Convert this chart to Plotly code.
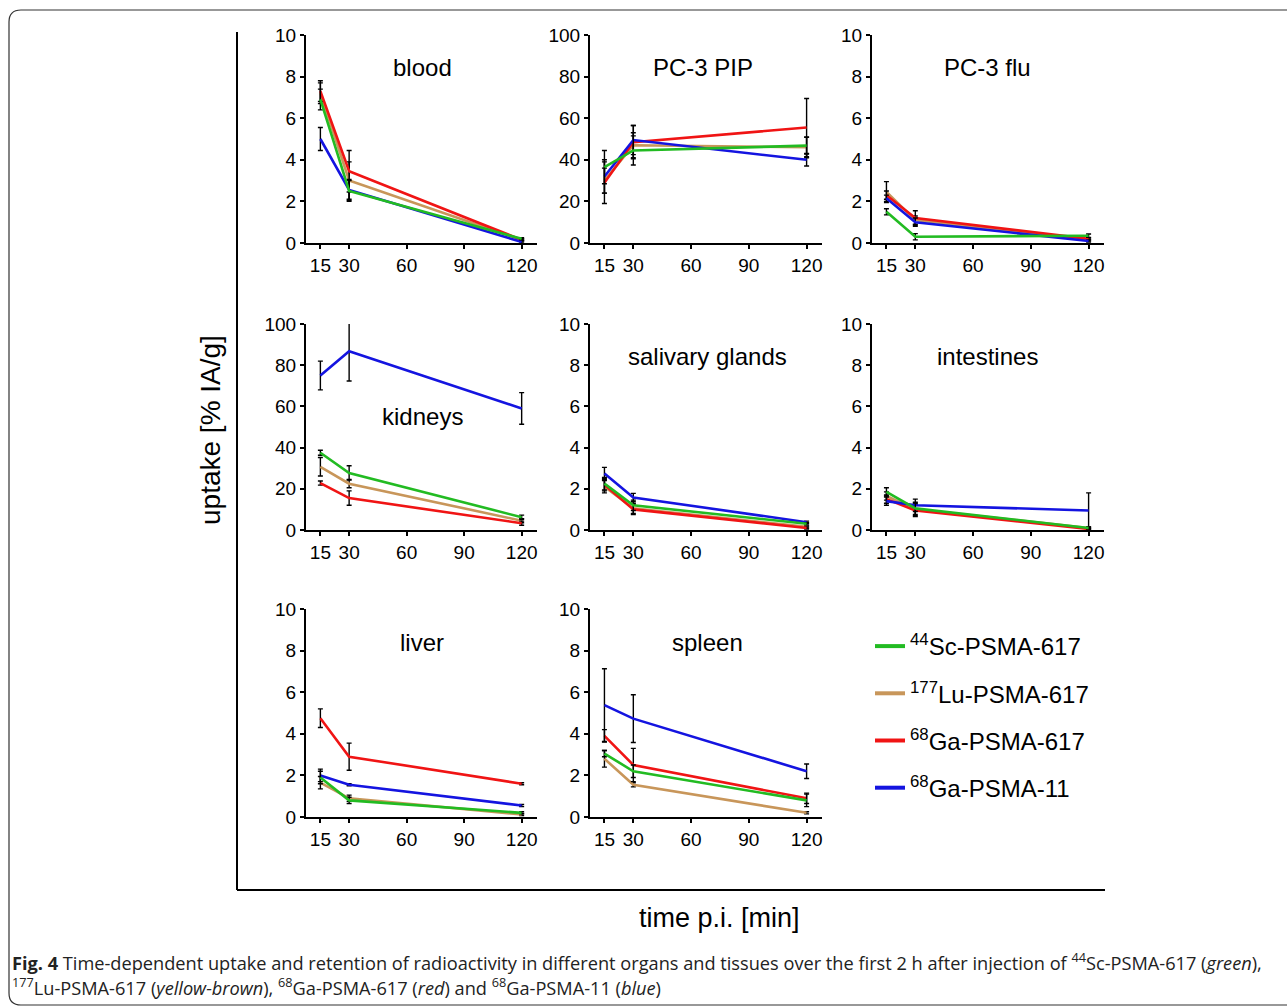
import plotly.graph_objects as go

W, H = 1287, 1008

# ---------------- data ----------------
times = [15, 30, 120]
x_ticks = [15, 30, 60, 90, 120]

compounds = ["<sup>44</sup>Sc-PSMA-617", "<sup>177</sup>Lu-PSMA-617",
             "<sup>68</sup>Ga-PSMA-617", "<sup>68</sup>Ga-PSMA-11"]
colors = ["#22bb22", "#c8965a", "#f01414", "#1414e0"]

organs = ["blood", "PC-3 PIP", "PC-3 flu", "kidneys", "salivary glands",
          "intestines", "liver", "spleen"]
y_max = [10, 100, 10, 100, 10, 10, 10, 10]

# 44Sc-PSMA-617 (green)
sc_mean = [[6.9, 2.5, 0.2], [36.5, 44.5, 46.8], [1.5, 0.3, 0.35], [37.5, 27.7, 6.2],
           [2.25, 1.2, 0.3], [1.85, 1.05, 0.1], [1.9, 0.8, 0.2], [3.05, 2.2, 0.8]]
sc_sd = [[0.5, 0.5, 0.05], [8, 7, 4], [0.15, 0.15, 0.08], [1.2, 3.5, 1.0],
         [0.3, 0.25, 0.05], [0.2, 0.3, 0.05], [0.3, 0.15, 0.05], [0.15, 0.3, 0.3]]

# 177Lu-PSMA-617 (yellow-brown)
lu_mean = [[7.2, 3.0, 0.15], [30, 47, 46], [2.45, 1.1, 0.15], [30.7, 22.5, 4.5],
           [2.1, 1.05, 0.15], [1.65, 1.0, 0.1], [1.65, 0.9, 0.12], [2.8, 1.55, 0.2]]
lu_sd = [[0.5, 0.9, 0.05], [6, 6, 5], [0.5, 0.2, 0.05], [4.5, 2.0, 1.0],
         [0.3, 0.25, 0.05], [0.2, 0.3, 0.05], [0.3, 0.15, 0.05], [0.4, 0.1, 0.05]]

# 68Ga-PSMA-617 (red)
ga617_mean = [[7.3, 3.45, 0.15], [29, 48.5, 55.5], [2.3, 1.2, 0.2], [22.8, 15.5, 3.3],
              [2.2, 1.0, 0.1], [1.5, 0.95, 0.05], [4.75, 2.9, 1.6], [3.9, 2.5, 0.9]]
ga617_sd = [[0.5, 1.0, 0.05], [10, 8, 14], [0.2, 0.35, 0.05], [1.0, 3.5, 1.0],
            [0.3, 0.25, 0.05], [0.2, 0.3, 0.05], [0.45, 0.65, 0.05], [0.3, 0.8, 0.25]]

# 68Ga-PSMA-11 (blue)
ga11_mean = [[5.0, 2.55, 0.05], [32, 49.5, 40], [2.15, 1.0, 0.1], [75, 86.8, 59],
             [2.74, 1.58, 0.38], [1.4, 1.2, 0.95], [2.0, 1.55, 0.55], [5.38, 4.73, 2.2]]
ga11_sd = [[0.55, 0.5, 0.05], [8, 7, 3], [0.15, 0.2, 0.05], [7, 14.5, 7.7],
           [0.3, 0.2, 0.05], [0.2, 0.3, 0.85], [0.3, 0.05, 0.05], [1.75, 1.15, 0.35]]

means = [sc_mean, lu_mean, ga617_mean, ga11_mean]
sds = [sc_sd, lu_sd, ga617_sd, ga11_sd]
draw_order = [1, 2, 3, 0]  # tan, red, blue, green on top

# ---------------- layout helpers ----------------
col_px = [(306, 537), (590, 822), (872, 1104)]
row_px = [(35, 243), (324, 530), (609, 817)]
title_px = [(422, 68), (703, 68), (988, 68), (422, 416), (707, 356),
            (988, 356), (422, 642), (707, 642)]

def px_x(p):
    return p / W

def px_y(p):
    return 1 - p / H

fig = go.Figure()
FONT = "Liberation Sans, Arial, sans-serif"

for i, organ in enumerate(organs):
    r, c = divmod(i, 3)
    n = i + 1
    xa = "x" if n == 1 else f"x{n}"
    ya = "y" if n == 1 else f"y{n}"
    for k in draw_order:
        fig.add_trace(go.Scatter(
            x=times, y=means[k][i], mode="lines",
            line=dict(color=colors[k], width=2.6),
            error_y=dict(type="data", array=sds[k][i], visible=True,
                         color="black", thickness=1.4, width=2.5),
            xaxis=xa, yaxis=ya, showlegend=False, hoverinfo="skip"))
    ax = dict(
        domain=[px_x(col_px[c][0]), px_x(col_px[c][1])],
        range=[7.5, 128], tickvals=x_ticks, ticktext=[str(t) for t in x_ticks],
        showline=True, linecolor="black", linewidth=2, mirror=False,
        ticks="outside", ticklen=4, tickwidth=2, tickcolor="black",
        showgrid=False, zeroline=False, automargin=False,
        tickfont=dict(family=FONT, size=19, color="black"),
        anchor=ya, fixedrange=True)
    ay = dict(
        domain=[px_y(row_px[r][1]), px_y(row_px[r][0])],
        range=[0, y_max[i]], dtick=y_max[i] / 5,
        showline=True, linecolor="black", linewidth=2,
        ticks="outside", ticklen=4, tickwidth=2, tickcolor="black",
        showgrid=False, zeroline=False, automargin=False,
        tickfont=dict(family=FONT, size=19, color="black"),
        anchor=xa, fixedrange=True)
    fig.layout["xaxis" if n == 1 else f"xaxis{n}"] = ax
    fig.layout["yaxis" if n == 1 else f"yaxis{n}"] = ay
    fig.add_annotation(text=organ, x=px_x(title_px[i][0]), y=px_y(title_px[i][1]),
                       xref="paper", yref="paper", showarrow=False,
                       xanchor="center", yanchor="middle",
                       font=dict(family=FONT, size=24, color="black"))

# legend entries
for k in range(4):
    fig.add_trace(go.Scatter(x=[None], y=[None], mode="lines",
                             line=dict(color=colors[k], width=4),
                             name=compounds[k], legendgroup=str(k),
                             showlegend=True, xaxis="x8", yaxis="y8"))

# outer frame axes
shapes = [
    dict(type="line", xref="paper", yref="paper", x0=px_x(237), x1=px_x(237),
         y0=px_y(32), y1=px_y(890), line=dict(color="black", width=2)),
    dict(type="line", xref="paper", yref="paper", x0=px_x(237), x1=px_x(1105),
         y0=px_y(890), y1=px_y(890), line=dict(color="black", width=2)),
]
# rounded figure border
rr = 12
path = (f"M {px_x(1287)},{px_y(10)} L {px_x(9 + rr)},{px_y(10)} "
        f"Q {px_x(9)},{px_y(10)} {px_x(9)},{px_y(10 + rr)} "
        f"L {px_x(9)},{px_y(1005 - rr)} Q {px_x(9)},{px_y(1005)} {px_x(9 + rr)},{px_y(1005)} "
        f"L {px_x(1287)},{px_y(1005)}")
shapes.append(dict(type="path", xref="paper", yref="paper", path=path,
                   line=dict(color="#333333", width=1.2)))

fig.add_annotation(text="uptake [% IA/g]", x=px_x(210), y=px_y(430), xref="paper",
                   yref="paper", showarrow=False, textangle=-90,
                   xanchor="center", yanchor="middle",
                   font=dict(family=FONT, size=28, color="black"))
fig.add_annotation(text="time p.i. [min]", x=px_x(719), y=px_y(918), xref="paper",
                   yref="paper", showarrow=False, xanchor="center", yanchor="middle",
                   font=dict(family=FONT, size=27, color="black"))

CAP = "Open Sans, sans-serif"
fig.add_annotation(
    text=("<b>Fig. 4</b> Time-dependent uptake and retention of radioactivity in different organs "
          "and tissues over the first 2 h after injection of <sup>44</sup>Sc-PSMA-617 (<i>green</i>),"),
    x=px_x(10), y=px_y(961), xref="paper", yref="paper", showarrow=False,
    xanchor="left", yanchor="middle", align="left",
    font=dict(family=CAP, size=18.2, color="#222222"))
fig.add_annotation(
    text=("<sup>177</sup>Lu-PSMA-617 (<i>yellow-brown</i>), <sup>68</sup>Ga-PSMA-617 (<i>red</i>) "
          "and <sup>68</sup>Ga-PSMA-11 (<i>blue</i>)"),
    x=px_x(10), y=px_y(986), xref="paper", yref="paper", showarrow=False,
    xanchor="left", yanchor="middle", align="left",
    font=dict(family=CAP, size=18.2, color="#222222"))

fig.update_layout(
    width=W, height=H, margin=dict(l=0, r=0, t=0, b=0, pad=0, autoexpand=False),
    paper_bgcolor="white", plot_bgcolor="white",
    shapes=shapes,
    showlegend=True,
    legend=dict(x=px_x(870), y=px_y(624), xanchor="left", yanchor="top",
                font=dict(family=FONT, size=24, color="black"),
                tracegroupgap=13, itemwidth=30, bgcolor="rgba(0,0,0,0)"),
)

fig.write_html("out.html", config={"displayModeBar": False},
               post_script="document.body.style.margin='0';")
